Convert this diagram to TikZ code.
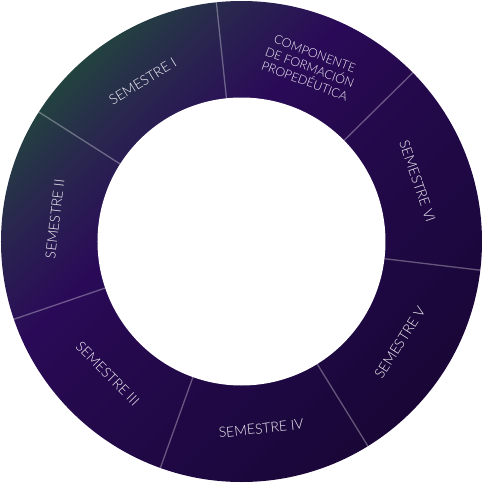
\documentclass[tikz,border=0pt]{standalone}
\usepackage{fontspec}
\newfontfamily\lblfont{Lato Light}

% colour stops of the diagonal ring gradient
\definecolor{ringdark}{HTML}{1A0636}
\definecolor{ringbottom}{HTML}{1D0840}
\definecolor{ringright}{HTML}{25094D}
\definecolor{ringpurple}{HTML}{2A0A58}
\definecolor{ringblue}{HTML}{29264F}
\definecolor{ringgreen}{HTML}{1F5236}
\definecolor{labelcol}{HTML}{F4F2F8}

\pgfdeclareverticalshading{ringshade}{100bp}{
  color(0bp)=(ringdark); color(25bp)=(ringdark);
  color(35bp)=(ringbottom); color(51bp)=(ringright);
  color(59bp)=(ringpurple); color(68bp)=(ringblue);
  color(79bp)=(ringgreen); color(100bp)=(ringgreen)}

\tikzset{
  ring/.style={shading=ringshade, shading angle=45},
  divider/.style={draw=white, draw opacity=0.32, line width=1.3pt},
  seglabel/.style={text=labelcol, font=\lblfont\fontsize{14}{16}\selectfont,
    inner sep=0pt, anchor=center},
  smalllabel/.style={seglabel, font=\lblfont\fontsize{12.3}{14.5}\selectfont,
    align=center}
}

\begin{document}
\begin{tikzpicture}[x=1pt,y=1pt]
  \fill[white] (-241.5,-241.5) rectangle (241.5,241.5);
  \useasboundingbox (-241.5,-241.5) rectangle (241.5,241.5);

  % ring: shaded disk with a white hole
  \path[ring] (0,0) circle[radius=240.5];
  \fill[white] (0,0) circle[radius=144];

  % seven radial separators
  \foreach \k in {0,...,6}{
    \pgfmathsetmacro{\ang}{96+\k*360/7}
    \coordinate (in\k) at (\ang:144);
    \coordinate (out\k) at (\ang:241);
    \draw[divider] (in\k) -- (out\k);
  }

  % segment labels, set along the ring
  \node[smalllabel, rotate=-20.5] (comp) at (68.6:187)
    {COMPONENTE\\DE FORMACIÓN\\PROPEDÉUTICA};
  \node[seglabel, rotate=31.71]  (s1) at (121.71:188) {SEMESTRE I};
  \node[seglabel, rotate=83.14]  (s2) at (173.14:188) {SEMESTRE II};
  \node[seglabel, rotate=-45.43] (s3) at (224.57:188) {SEMESTRE III};
  \node[seglabel, rotate=6]      (s4) at (276:188)    {SEMESTRE IV};
  \node[seglabel, rotate=57.43]  (s5) at (327.43:188) {SEMESTRE V};
  \node[seglabel, rotate=-71.14] (s6) at (18.86:186)  {SEMESTRE VI};
\end{tikzpicture}
\end{document}
